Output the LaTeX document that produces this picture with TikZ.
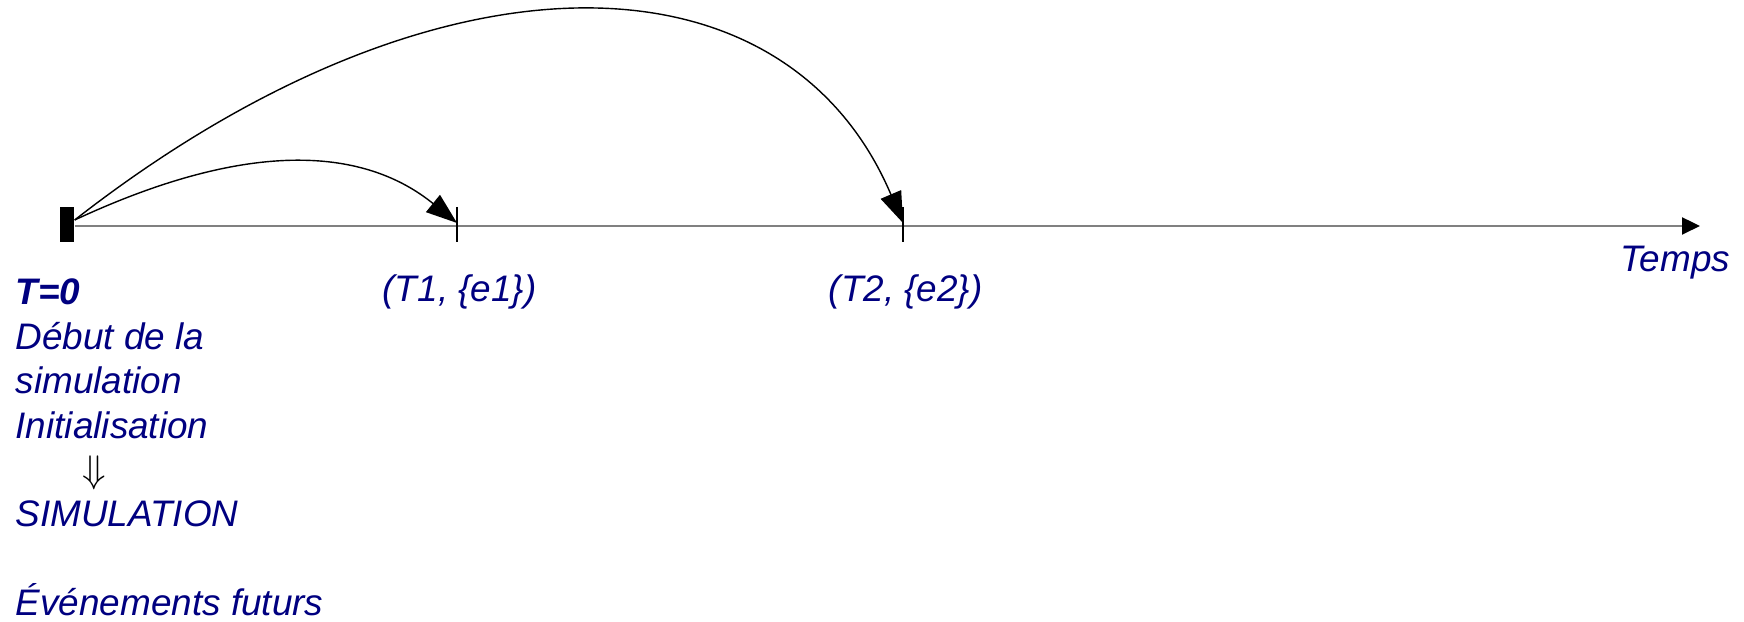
\documentclass[tikz,border=0pt]{standalone}
\usepackage{fontspec}
\setmainfont{Liberation Sans}
\usetikzlibrary{arrows.meta, positioning}
\definecolor{evtNavy}{RGB}{0, 0, 128}
\definecolor{axisGray}{gray}{0.5}

\begin{document}
\begin{tikzpicture}[
        x=1cm,
        y=1cm,
        axis/.style={line width=0.6pt, axisGray, -{Triangle[length=1.8mm, width=1.7mm, color=black]}},
        tick/.style={black, line width=0.4pt},
        jump/.style={black, line width=0.4pt, -{Triangle[length=3.1mm, width=2.2mm]}},
        evtLabel/.style={
            font=\fontsize{10.5}{12.66}\selectfont\itshape,
            text=evtNavy,
            inner sep=0pt,
            anchor=base west
        },
        startBlock/.style={rectangle, fill=black, minimum width=0.14cm, minimum height=0.35cm, inner sep=0pt}
    ]
        \useasboundingbox (0,0) rectangle (17.44,6.22);

        \node[startBlock] (origin) at (0.67,3.97) {};
        \coordinate (axisEnd) at (17.00,3.96);
        \draw[axis] (origin.east |- axisEnd) -- (axisEnd);

        \foreach \x/\name/\label in {4.57/e1/{(T1, \{e1\})}, 9.03/e2/{(T2, \{e2\})}} {
            \draw[tick] (\x,4.15) -- (\x,3.80);
            \coordinate (\name) at (\x,3.99);
            \node[evtLabel] (\name lbl) at (\x-0.75,3.20) {\label};
        }

        \draw[jump] ([yshift=0.05cm]origin.east) .. controls (2.55,4.86) and (3.67,4.72) .. (e1);
        \draw[jump] ([yshift=0.05cm]origin.east) .. controls (4.36,6.84) and (7.85,6.77) .. (e2);

        \node[evtLabel] (temps) at (16.20,3.50) {Temps};

        % anchored on the baseline of the last line
        \node[evtLabel, align=left] (startText) at (0.15,0.06)
            {\textbf{T=0}\\
             Début de la\\
             simulation\\
             Initialisation\\
             \hspace*{0.67cm}\textcolor{black}{$\Downarrow$}\\
             SIMULATION\\[12.66pt]
             Événements futurs};
    \end{tikzpicture}
\end{document}
